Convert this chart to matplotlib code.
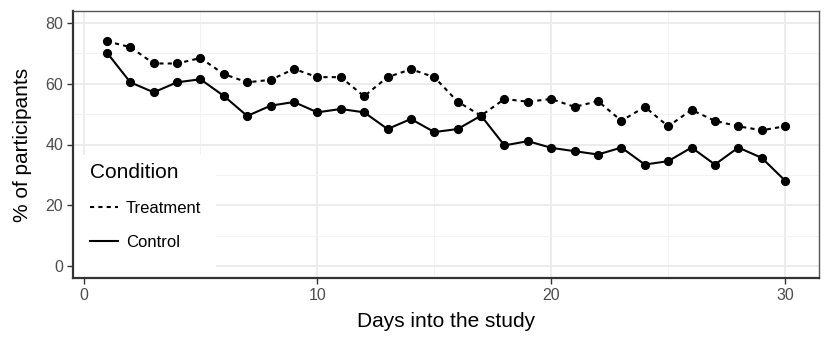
import numpy as np
import matplotlib
matplotlib.use("Agg")
import matplotlib.pyplot as plt
from matplotlib.lines import Line2D
from matplotlib.patches import Rectangle

plt.rcParams["font.family"] = ["Liberation Sans", "DejaVu Sans"]

days = list(range(1, 31))
treatment = [74.0, 72.1, 66.7, 66.7, 68.5, 63.2, 60.5, 61.3, 64.9, 62.2,
             62.2, 55.9, 62.2, 64.8, 62.2, 54.1, 49.5, 55.0, 54.1, 55.0,
             52.4, 54.3, 47.8, 52.4, 46.0, 51.4, 47.8, 46.0, 44.7, 46.0]
control = [70.3, 60.5, 57.2, 60.5, 61.5, 56.0, 49.4, 52.8, 54.0, 50.6,
           51.7, 50.6, 45.1, 48.4, 44.1, 45.1, 49.5, 39.7, 41.1, 38.9,
           37.8, 36.7, 39.0, 33.4, 34.5, 39.0, 33.4, 39.0, 35.6, 28.1]

W, H = 830, 346
L, R, T, B = 73, 819, 11, 278
fig = plt.figure(figsize=(W / 100, H / 100), dpi=100)
ax = fig.add_axes([L / W, (H - B) / H, (R - L) / W, (B - T) / H])

ax.plot(days, treatment, color="black", lw=1.5, ls=(0, (2, 2)), marker="o", ms=5.6, zorder=3)
ax.plot(days, control, color="black", lw=1.5, ls="-", marker="o", ms=5.6, zorder=3)

ax.set_xlim(-0.45, 31.45)
ax.set_ylim(-4, 84)
ax.set_xticks([0, 10, 20, 30])
ax.set_yticks([0, 20, 40, 60, 80])
ax.set_xticks([5, 15, 25], minor=True)
ax.set_yticks([10, 30, 50, 70], minor=True)
ax.grid(True, which="major", color="#EBEBEB", lw=1.3)
ax.grid(True, which="minor", color="#F3F3F3", lw=0.7)
ax.set_axisbelow(True)

ax.tick_params(which="major", length=4, width=1, color="#333333",
               labelsize=11.5, labelcolor="#4D4D4D", pad=3)
ax.tick_params(which="minor", length=0)
for s in ["top", "right"]:
    ax.spines[s].set_color("#555555")
    ax.spines[s].set_linewidth(1.0)
for s in ["left", "bottom"]:
    ax.spines[s].set_color("#333333")
    ax.spines[s].set_linewidth(1.6)
for s in ax.spines.values():
    s.set_zorder(6)

ax.set_xlabel("Days into the study", fontsize=15, labelpad=7)
ax.set_ylabel("% of participants", fontsize=15, labelpad=10)

# white legend background sitting on the grid, under the axis lines
ax.add_patch(Rectangle((0, 0), (216 - L) / (R - L), (B - 155) / (B - T),
                       transform=ax.transAxes, facecolor="white", edgecolor="none", zorder=1))

handles = [Line2D([], [], color="black", lw=1.5, ls=(0, (2, 2))),
           Line2D([], [], color="black", lw=1.5, ls="-")]
leg = ax.legend(handles, ["Treatment", "Control"], title="Condition",
                loc="upper left", bbox_to_anchor=((90 - L) / (R - L), (B - 163) / (B - T)),
                borderaxespad=0, borderpad=0, frameon=False,
                fontsize=12, title_fontsize=15,
                handlelength=1.65, handletextpad=0.5, labelspacing=1.15,
                alignment="left")
leg.set_zorder(5)

fig.savefig("out.png", dpi=100)
